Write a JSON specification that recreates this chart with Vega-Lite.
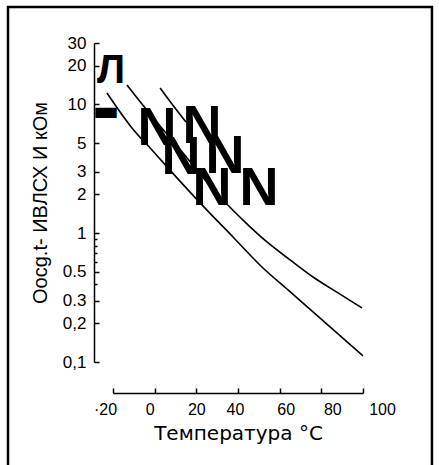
{
  "$schema": "https://vega.github.io/schema/vega-lite/v6.json",
  "width": 250,
  "height": 319,
  "autosize": "none",
  "padding": {"left": 113, "top": 43, "right": 76, "bottom": 103},
  "background": "white",
  "config": {"view": {"stroke": null}, "font": "Liberation Sans"},
  "datasets": {
    "curves": [
      {"curve": "A", "T": -13.3, "R": 14.16},
      {"curve": "A", "T": -6.1, "R": 10.08},
      {"curve": "A", "T": 2.6, "R": 6.8},
      {"curve": "A", "T": 13.6, "R": 4.2},
      {"curve": "A", "T": 24.2, "R": 2.59},
      {"curve": "A", "T": 32.8, "R": 1.81},
      {"curve": "A", "T": 43.4, "R": 1.22},
      {"curve": "A", "T": 53.9, "R": 0.855},
      {"curve": "A", "T": 65.0, "R": 0.62},
      {"curve": "A", "T": 76.0, "R": 0.457},
      {"curve": "A", "T": 88.0, "R": 0.344},
      {"curve": "A", "T": 99.5, "R": 0.263},
      {"curve": "B", "T": -22.9, "R": 12.27},
      {"curve": "B", "T": -16.6, "R": 8.74},
      {"curve": "B", "T": -10.9, "R": 6.57},
      {"curve": "B", "T": -1.3, "R": 4.43},
      {"curve": "B", "T": 10.7, "R": 2.69},
      {"curve": "B", "T": 22.7, "R": 1.66},
      {"curve": "B", "T": 37.6, "R": 0.935},
      {"curve": "B", "T": 52.0, "R": 0.537},
      {"curve": "B", "T": 64.0, "R": 0.3625},
      {"curve": "B", "T": 76.0, "R": 0.2446},
      {"curve": "B", "T": 88.0, "R": 0.1651},
      {"curve": "B", "T": 100.0, "R": 0.1114},
      {"curve": "C", "T": 2.6, "R": 13.42},
      {"curve": "C", "T": 8.3, "R": 10.08},
      {"curve": "C", "T": 15.0, "R": 7.31}
    ],
    "marks": [
      {"g": "L", "txt": "Л", "T": -21.0, "R": 14.67},
      {"g": "bar", "txt": "▬", "T": -23.4, "R": 8.66},
      {"g": "N", "txt": "N", "T": 1.1, "R": 4.85},
      {"g": "N", "txt": "N", "T": 22.7, "R": 5.02},
      {"g": "N", "txt": "N", "T": 12.6, "R": 2.88},
      {"g": "N", "txt": "N", "T": 33.8, "R": 2.94},
      {"g": "N", "txt": "N", "T": 27.5, "R": 1.66},
      {"g": "N", "txt": "N", "T": 50.1, "R": 1.66}
    ]
  },
  "layer": [
    {
      "data": {"name": "curves"},
      "mark": {"type": "line", "color": "black", "strokeWidth": 1.6, "interpolate": "monotone", "clip": false},
      "encoding": {
        "x": {
          "field": "T", "type": "quantitative",
          "scale": {"domain": [-20, 100], "nice": false, "zero": false},
          "axis": {
            "values": [-20, 0, 20, 40, 60, 80, 100],
            "labelExpr": "datum.value == -20 ? '·20' : datum.label",
            "offset": 31,
            "grid": false,
            "labelFlush": false,
            "labelOverlap": false,
            "domainColor": "black", "domainWidth": 1.5,
            "tickColor": "black", "tickWidth": 1.5, "tickSize": -5,
            "labelFontSize": 16, "labelColor": "black", "labelPadding": 13,
            "labelOffset": {"condition": [
              {"test": "datum.value == -20", "value": -8},
              {"test": "datum.value == 0", "value": -5},
              {"test": "datum.value == 40", "value": -3},
              {"test": "datum.value == 60", "value": 6},
              {"test": "datum.value == 80", "value": 11},
              {"test": "datum.value == 100", "value": 19}
            ], "value": 0},
            "title": "Температура  °C",
            "titleFont": "DejaVu Sans",
            "titleFontSize": 20, "titleFontWeight": "normal", "titleColor": "black", "titlePadding": 6
          }
        },
        "y": {
          "field": "R", "type": "quantitative",
          "scale": {"type": "log", "domain": [0.1, 30], "nice": false},
          "axis": {
            "values": [0.1, 0.2, 0.3, 0.4, 0.5, 0.6, 0.7, 0.8, 0.9, 1, 2, 3, 5, 10, 20, 30],
            "labelExpr": "datum.value == 0.1 ? '0,1' : datum.value == 0.2 ? '0,2' : datum.value == 0.3 ? '0.3' : datum.value == 0.5 ? '0.5' : (datum.value == 0.4 || datum.value == 0.6 || datum.value == 0.7 || datum.value == 0.8 || datum.value == 0.9) ? '' : format(datum.value, 'd')",
            "offset": 19,
            "grid": false,
            "labelOverlap": false,
            "domainColor": "black", "domainWidth": 1.5,
            "tickColor": "black", "tickWidth": 1.5,
            "tickSize": {"condition": {"test": "datum.value == 0.4 || datum.value == 0.6 || datum.value == 0.7 || datum.value == 0.8 || datum.value == 0.9", "value": -3}, "value": -5},
            "labelFontSize": 17, "labelColor": "black", "labelPadding": 13,
            "title": "Oocg.t- ИВЛСХ И кОм",
            "titleFontSize": 20, "titleFontWeight": "normal", "titleColor": "black", "titlePadding": 12
          }
        },
        "detail": {"field": "curve", "type": "nominal"}
      }
    },
    {
      "data": {"values": [{}]},
      "mark": {"type": "rect", "fillOpacity": 0, "stroke": "black", "strokeWidth": 2.5, "clip": false},
      "encoding": {
        "x": {"datum": -70.4, "type": "quantitative", "scale": {"domain": [-20, 100], "nice": false, "zero": false}},
        "x2": {"datum": 133.1},
        "y": {"datum": 57.1, "type": "quantitative", "scale": {"type": "log", "domain": [0.1, 30], "nice": false}},
        "y2": {"datum": 0.012}
      }
    },
    {
      "data": {"name": "marks"},
      "transform": [{"filter": "datum.g == 'N'"}],
      "mark": {"type": "text", "font": "Liberation Sans Narrow, Liberation Sans", "fontWeight": "bold", "fontSize": 54, "baseline": "alphabetic", "align": "center", "color": "black", "clip": false},
      "encoding": {
        "x": {"field": "T", "type": "quantitative", "scale": {"domain": [-20, 100], "nice": false, "zero": false}},
        "y": {"field": "R", "type": "quantitative", "scale": {"type": "log", "domain": [0.1, 30], "nice": false}},
        "text": {"field": "txt"}
      }
    },
    {
      "data": {"name": "marks"},
      "transform": [{"filter": "datum.g == 'L'"}],
      "mark": {"type": "text", "font": "Liberation Sans", "fontWeight": "bold", "fontSize": 40, "baseline": "alphabetic", "align": "center", "color": "black", "clip": false},
      "encoding": {
        "x": {"field": "T", "type": "quantitative", "scale": {"domain": [-20, 100], "nice": false, "zero": false}},
        "y": {"field": "R", "type": "quantitative", "scale": {"type": "log", "domain": [0.1, 30], "nice": false}},
        "text": {"field": "txt"}
      }
    },
    {
      "data": {"name": "marks"},
      "transform": [{"filter": "datum.g == 'bar'"}],
      "mark": {"type": "text", "font": "DejaVu Sans", "fontSize": 28, "baseline": "middle", "align": "center", "color": "black", "clip": false},
      "encoding": {
        "x": {"field": "T", "type": "quantitative", "scale": {"domain": [-20, 100], "nice": false, "zero": false}},
        "y": {"field": "R", "type": "quantitative", "scale": {"type": "log", "domain": [0.1, 30], "nice": false}},
        "text": {"field": "txt"}
      }
    }
  ]
}
